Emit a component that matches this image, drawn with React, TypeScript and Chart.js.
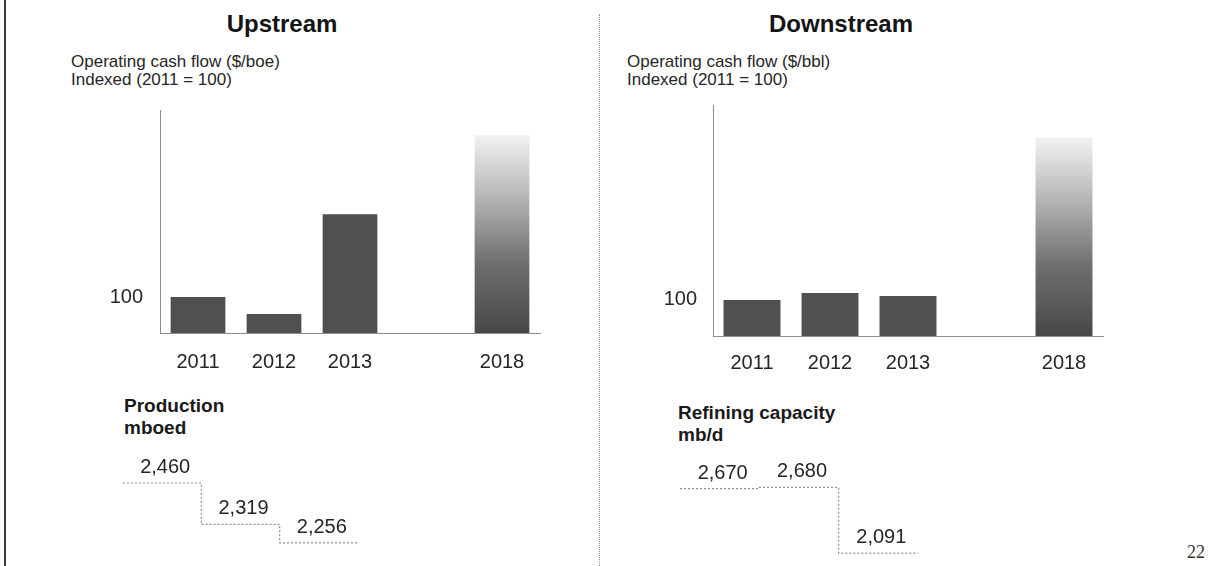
import React, { useEffect, useRef } from 'react';
import { Chart, registerables } from 'chart.js';

Chart.register(...registerables);

// ---------- data ----------
const years = ['2011', '2012', '2013', '', '2018'];
const upstreamCashFlow = [100, 53, 330, null, 550];
const downstreamCashFlow = [100, 119, 111, null, 550];
const indexTicks = [100];
const targetYear = '2018';

const stepYears = ['2011', '2012', '2013'];
const productionValues = [2460, 2319, 2256];
const refiningValues = [2670, 2680, 2091];

// ---------- style ----------
const FONT = "'Liberation Sans', Arial, Helvetica, sans-serif";
const TEXT = '#262626';
const AXIS = '#8e8e8e';
const BAR = '#505050';

const fmt = (v: number) => String(v).replace(/\B(?=(\d{3})+(?!\d))/g, ',');

type Box = { x: number; y: number; w: number; h: number };

function BarPanel(props: {
  labels: string[];
  values: (number | null)[];
  yMax: number;
  box: Box;
  yWidth: number;
  xHeight: number;
  xPad: number;
  yPad: number;
  barPct: number;
}) {
  const ref = useRef<HTMLCanvasElement>(null);
  useEffect(() => {
    const { labels, values, yMax, yWidth, xHeight, xPad, yPad, barPct } = props;
    const targetIndex = labels.indexOf(targetYear);
    const chart = new Chart(ref.current as HTMLCanvasElement, {
      type: 'bar',
      data: {
        labels,
        datasets: [
          {
            data: values as any,
            borderWidth: 0,
            barPercentage: barPct,
            categoryPercentage: 1,
            backgroundColor: (c: any) => {
              if (c.type !== 'data' || c.dataIndex !== targetIndex) return BAR;
              const ch = c.chart;
              const ys = ch.scales && ch.scales.y;
              if (!ys || !ch.chartArea) return BAR;
              const top = ys.getPixelForValue(c.raw);
              const bottom = ys.getPixelForValue(0);
              const g = ch.ctx.createLinearGradient(0, top, 0, bottom);
              g.addColorStop(0, '#f2f2f2');
              g.addColorStop(0.3, '#b8b8b8');
              g.addColorStop(0.65, '#6e6e6e');
              g.addColorStop(1, '#474747');
              return g;
            },
          },
        ],
      },
      options: {
        responsive: false,
        animation: false,
        layout: { padding: { top: 10, right: 20, left: 0, bottom: 0 } },
        plugins: {
          legend: { display: false },
          tooltip: { enabled: false },
          title: { display: false },
        },
        scales: {
          x: {
            grid: { display: false, drawTicks: false },
            border: { display: true, color: AXIS, dash: [2, 2], width: 1 },
            ticks: {
              font: { size: 20, family: FONT },
              color: TEXT,
              padding: xPad,
              maxRotation: 0,
              autoSkip: false,
            },
            afterFit: (s: any) => {
              s.height = xHeight;
              s.paddingLeft = 0;
              s.paddingRight = 0;
              s.paddingTop = 0;
              s.paddingBottom = 0;
            },
          },
          y: {
            min: 0,
            max: yMax,
            grid: { display: false, drawTicks: false },
            border: { display: true, color: AXIS, dash: [2, 2], width: 1 },
            ticks: {
              font: { size: 20, family: FONT },
              color: TEXT,
              padding: yPad,
            },
            afterBuildTicks: (s: any) => {
              s.ticks = indexTicks.map((v) => ({ value: v }));
            },
            afterFit: (s: any) => {
              s.width = yWidth;
              s.paddingLeft = 0;
              s.paddingRight = 0;
              s.paddingTop = 0;
              s.paddingBottom = 0;
            },
          },
        },
      },
    } as any);
    return () => chart.destroy();
  }, []);
  const b = props.box;
  return (
    <canvas
      ref={ref}
      width={b.w}
      height={b.h}
      style={{ position: 'absolute', left: b.x, top: b.y, width: b.w, height: b.h }}
    />
  );
}

function StepPanel(props: {
  labels: string[];
  values: number[];
  yMin: number;
  yMax: number;
  box: Box;
  padding: { top: number; bottom: number; left: number; right: number };
}) {
  const ref = useRef<HTMLCanvasElement>(null);
  useEffect(() => {
    const { labels, values, yMin, yMax, padding } = props;
    const pts = values.map((v, i) => ({ x: i, y: v }));
    pts.push({ x: values.length, y: values[values.length - 1] });
    const labelPlugin = {
      id: 'stepLabels',
      afterDatasetsDraw(chart: any) {
        const { ctx, scales } = chart;
        const xs = scales.x;
        const ys = scales.y;
        ctx.save();
        ctx.font = `20px ${FONT}`;
        ctx.fillStyle = TEXT;
        ctx.textAlign = 'center';
        ctx.textBaseline = 'alphabetic';
        values.forEach((v, i) => {
          const cx = (xs.getPixelForValue(i) + xs.getPixelForValue(i + 1)) / 2 + 3;
          const cy = ys.getPixelForValue(v) - 10;
          ctx.fillText(fmt(v), cx, cy);
        });
        ctx.restore();
      },
    };
    const chart = new Chart(ref.current as HTMLCanvasElement, {
      type: 'line',
      data: {
        labels,
        datasets: [
          {
            data: pts as any,
            stepped: true,
            borderColor: AXIS,
            borderWidth: 1.2,
            borderDash: [2, 2],
            pointRadius: 0,
            fill: false,
          },
        ],
      },
      options: {
        responsive: false,
        animation: false,
        parsing: false,
        layout: { padding },
        plugins: {
          legend: { display: false },
          tooltip: { enabled: false },
        },
        scales: {
          x: { type: 'linear', min: 0, max: values.length, display: false },
          y: { min: yMin, max: yMax, display: false },
        },
      },
      plugins: [labelPlugin],
    } as any);
    return () => chart.destroy();
  }, []);
  const b = props.box;
  return (
    <canvas
      ref={ref}
      width={b.w}
      height={b.h}
      style={{ position: 'absolute', left: b.x, top: b.y, width: b.w, height: b.h }}
    />
  );
}

const abs = (x: number, y: number, extra: React.CSSProperties = {}): React.CSSProperties => ({
  position: 'absolute',
  left: x,
  top: y,
  whiteSpace: 'nowrap',
  color: TEXT,
  fontFamily: FONT,
  ...extra,
});

export default function App() {
  return (
    <div
      style={{
        position: 'absolute',
        left: 0,
        top: 0,
        width: 1221,
        height: 566,
        overflow: 'hidden',
        background: '#ffffff',
        fontFamily: FONT,
      }}
    >
      {/* left page edge */}
      <div style={{ position: 'absolute', left: 4, top: 0, width: 2, height: 566, background: '#3a3a3a' }} />
      {/* panel divider */}
      <div
        style={{
          position: 'absolute',
          left: 599,
          top: 14,
          width: 0,
          height: 552,
          borderLeft: '1px dotted #9a9a9a',
        }}
      />

      {/* Upstream */}
      <div style={abs(182, 12, { width: 200, textAlign: 'center', fontSize: 24, lineHeight: '24px', fontWeight: 700, color: '#141414' })}>
        Upstream
      </div>
      <div style={abs(71, 53, { fontSize: 17, lineHeight: '18px' })}>
        Operating cash flow ($/boe)
        <br />
        Indexed (2011 = 100)
      </div>
      <BarPanel
        labels={years}
        values={upstreamCashFlow}
        yMax={620}
        box={{ x: 90, y: 100, w: 470, h: 290 }}
        yWidth={70}
        xHeight={57}
        xPad={17}
        yPad={17}
        barPct={0.72}
      />
      <div style={abs(124, 395, { fontSize: 19, lineHeight: '22px', fontWeight: 700, color: '#1a1a1a' })}>
        Production
        <br />
        mboed
      </div>
      <StepPanel
        labels={stepYears}
        values={productionValues}
        yMin={2230}
        yMax={2480}
        box={{ x: 103, y: 440, w: 275, h: 120 }}
        padding={{ top: 37.1, bottom: 9.4, left: 20, right: 20 }}
      />

      {/* Downstream */}
      <div style={abs(741, 12, { width: 200, textAlign: 'center', fontSize: 24, lineHeight: '24px', fontWeight: 700, color: '#141414' })}>
        Downstream
      </div>
      <div style={abs(627, 53, { fontSize: 17, lineHeight: '18px' })}>
        Operating cash flow ($/bbl)
        <br />
        Indexed (2011 = 100)
      </div>
      <BarPanel
        labels={years}
        values={downstreamCashFlow}
        yMax={640}
        box={{ x: 643, y: 95, w: 480, h: 295 }}
        yWidth={70}
        xHeight={54}
        xPad={15}
        yPad={16}
        barPct={0.73}
      />
      <div style={abs(678, 402, { fontSize: 19, lineHeight: '22px', fontWeight: 700, color: '#1a1a1a' })}>
        Refining capacity
        <br />
        mb/d
      </div>
      <StepPanel
        labels={stepYears}
        values={refiningValues}
        yMin={2050}
        yMax={2720}
        box={{ x: 660, y: 440, w: 278, h: 124 }}
        padding={{ top: 43, bottom: 6.4, left: 20, right: 20 }}
      />

      {/* page number */}
      <div
        style={abs(1187, 543, {
          fontFamily: "'Liberation Serif', 'DejaVu Serif', serif",
          fontSize: 18,
          lineHeight: '18px',
          color: '#333',
        })}
      >
        22
      </div>
    </div>
  );
}
